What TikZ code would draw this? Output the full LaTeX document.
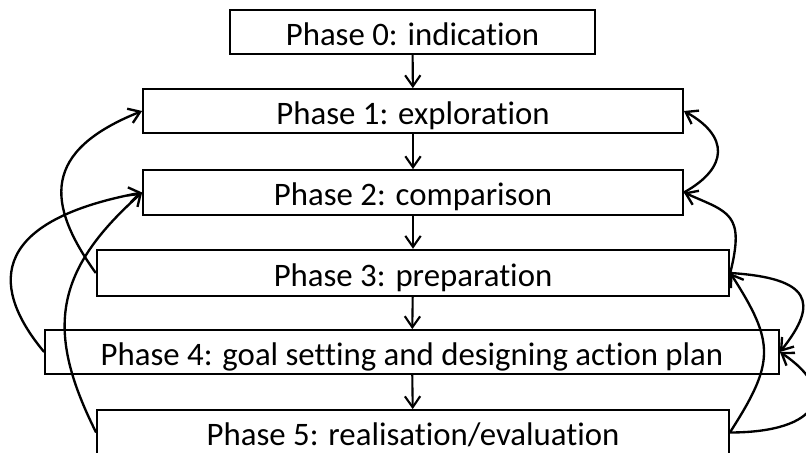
\documentclass[tikz,border=0pt]{standalone}
\usepackage{fontspec}
\setmainfont{Carlito}[Ligatures=NoCommon]
\usetikzlibrary{arrows.meta}
\newcommand*{\px}{0.03cm}
\tikzset{%
  phase/.style={draw, rectangle, line width=1.5pt, minimum height=44*\px,
    inner sep=0pt, text height=23pt, text depth=0pt,
    font=\fontsize{28}{32}\selectfont},% one phase box
  keyphase/.style={phase, line width=2.1pt},% phase 3 drawn heavier
  next/.style={->, line width=1.8pt},% straight step down
  back/.style={->, line width=2pt}% curved jump between phases
}

\begin{document}
\begin{tikzpicture}[x=\px, y=\px, >={Straight Barb[length=3.3mm, width=4.6mm]}]
\useasboundingbox (0,0) rectangle (806,453);
\node[phase, minimum width=365*\px] (p0) at (412.5, 421) {Phase 0: indication};
\node[phase, minimum width=540*\px] (p1) at (413, 342) {Phase 1: exploration};
\node[phase, minimum width=540*\px, minimum height=45*\px] (p2) at (413, 260.5) {Phase 2: comparison};
\node[keyphase, minimum width=632*\px, minimum height=46*\px] (p3) at (413, 180) {Phase 3: preparation};
\node[phase, minimum width=734*\px] (p4) at (412, 101) {Phase 4: goal setting and designing action plan};
\node[phase, minimum width=632*\px, minimum height=45*\px] (p5) at (413, 20.5) {Phase 5: realisation/evaluation};

\draw[next] (p0) -- (p1);
\draw[next] (p1) -- (p2);
\draw[next] (p2) -- (p3);
\draw[next] (p3) -- (p4);
\draw[next] (p4) -- (p5);

% left side, going back up
\draw[back] (p3.west) .. controls +(-50,70) and +(-100,-40) .. (p1.west);
\draw[back] (p4.west) .. controls +(-50,60) and +(-160,-30) .. (p2.west);
\draw[back] (p5.west) .. controls +(-50,100) and +(-90,-80) .. (p2.west);

% right side
\draw[back] (p2.east) .. controls +(45,25) and +(45,-25) .. (p1.east);
\draw[back] (p3.east) .. controls +(15,60) and +(45,-20) .. (p2.east);
\draw[back] (p3.east) .. controls +(80,-5) and +(40,50) .. (p4.east);
\draw[back] (p5.east) .. controls +(45,70) and +(45,-70) .. (p3.east);
\draw[back] (p5.east) .. controls +(90,0) and +(60,-40) .. (p4.east);
\end{tikzpicture}
\end{document}
